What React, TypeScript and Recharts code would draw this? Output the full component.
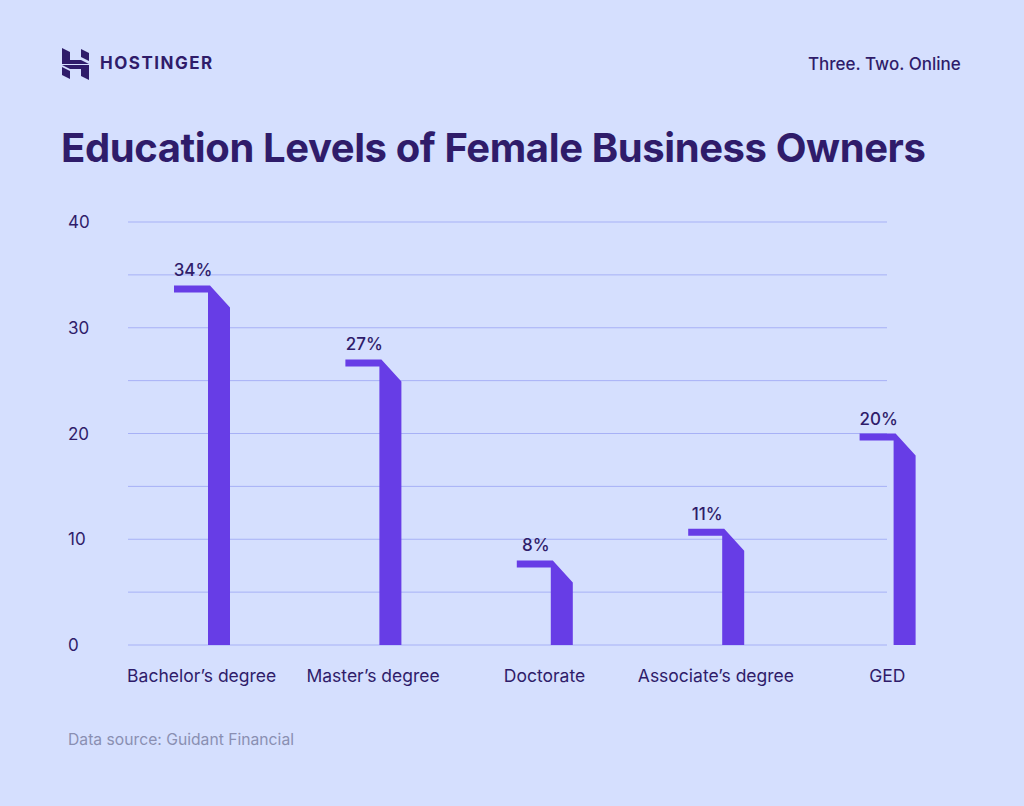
import React from "react";
import { BarChart, Bar, XAxis, YAxis, CartesianGrid, LabelList } from "recharts";

const categories = ["Bachelor’s degree", "Master’s degree", "Doctorate", "Associate’s degree", "GED"];
const shares = [34, 27, 8, 11, 20];
const yTicks = [0, 5, 10, 15, 20, 25, 30, 35, 40];
const yLabelTicks = [0, 10, 20, 30, 40];

const data = categories.map((name, i) => ({ name, value: shares[i] }));

const BG = "#D5DFFE";
const DARK = "#2F1C6A";
const PURPLE = "#673DE6";
const GRID = "#A7B1F6";
const FONT = "Inter, 'DejaVu Sans', sans-serif";

const FlagBar = (props: any) => {
  const { x, y, width, height } = props;
  if (height == null || height <= 0) return null;
  const stem = 22;
  const sx = x + width - stem;
  const pts = [
    [x, y],
    [sx + 2, y],
    [x + width, y + 22],
    [x + width, y + height],
    [sx, y + height],
    [sx, y + 7],
    [x, y + 7],
  ]
    .map((p) => p.join(","))
    .join(" ");
  return <polygon points={pts} fill={PURPLE} />;
};

const ValueLabel = (props: any) => {
  const { x, y, value } = props;
  return (
    <text x={x + 19} y={y - 9} textAnchor="middle" fill={DARK} fontFamily={FONT} fontSize={17} fontWeight={500}>
      {value}%
    </text>
  );
};

const YTick = (props: any) => {
  const { y, payload } = props;
  if (!yLabelTicks.includes(payload.value)) return null;
  return (
    <text x={68} y={y + 6} textAnchor="start" fill={DARK} fontFamily={FONT} fontSize={17}>
      {payload.value}
    </text>
  );
};

const XTick = (props: any) => {
  const { x, y, payload } = props;
  return (
    <text x={x} y={y + 37} textAnchor="middle" fill={DARK} fontFamily={FONT} fontSize={17.5}>
      {payload.value}
    </text>
  );
};

const Logo = () => (
  <svg width={27} height={32} viewBox="0 0 27 32" style={{ position: "absolute", left: 62, top: 48 }}>
    <polygon points="0,0 8,4 8,12 19,12 27,16 0,16" fill={DARK} />
    <polygon points="19,1 27,5 27,13 19,9" fill={DARK} />
    <polygon points="0,17 27,17 27,32 19,28 19,21 8,21" fill={DARK} />
    <polygon points="0,19 8,23 8,31 0,27" fill={DARK} />
  </svg>
);

export default function App() {
  return (
    <div
      style={{
        position: "absolute",
        left: 0,
        top: 0,
        width: 1024,
        height: 806,
        background: BG,
        fontFamily: FONT,
        overflow: "hidden",
      }}
    >
      <Logo />
      <div
        style={{
          position: "absolute",
          left: 100,
          top: 53,
          fontSize: 17,
          fontWeight: 700,
          letterSpacing: 1.5,
          color: DARK,
        }}
      >
        HOSTINGER
      </div>
      <div style={{ position: "absolute", left: 808, top: 54, fontSize: 17, fontWeight: 500, color: DARK }}>
        Three. Two. Online
      </div>
      <div
        style={{
          position: "absolute",
          left: 61,
          top: 123,
          fontSize: 40,
          fontWeight: 700,
          color: DARK,
          letterSpacing: -0.4,
          whiteSpace: "nowrap",
        }}
      >
        Education Levels of Female Business Owners
      </div>
      <div style={{ position: "absolute", left: 68, top: 730, fontSize: 15.7, color: "#8A8FB2" }}>
        Data source: Guidant Financial
      </div>
      <div style={{ position: "absolute", left: 0, top: 0 }}>
        <BarChart width={1024} height={806} data={data} margin={{ top: 222, right: 51, bottom: 121, left: 56 }}>
          <CartesianGrid x={128} width={759} vertical={false} stroke={GRID} strokeWidth={1} />
          <YAxis
            domain={[0, 40]}
            ticks={yTicks}
            interval={0}
            width={60}
            axisLine={false}
            tickLine={false}
            tick={<YTick />}
          />
          <XAxis
            dataKey="name"
            height={40}
            axisLine={false}
            tickLine={false}
            tickSize={0}
            tickMargin={0}
            interval={0}
            tick={<XTick />}
          />
          <Bar dataKey="value" barSize={56} shape={<FlagBar />} isAnimationActive={false}>
            <LabelList dataKey="value" content={<ValueLabel />} />
          </Bar>
        </BarChart>
      </div>
    </div>
  );
}
